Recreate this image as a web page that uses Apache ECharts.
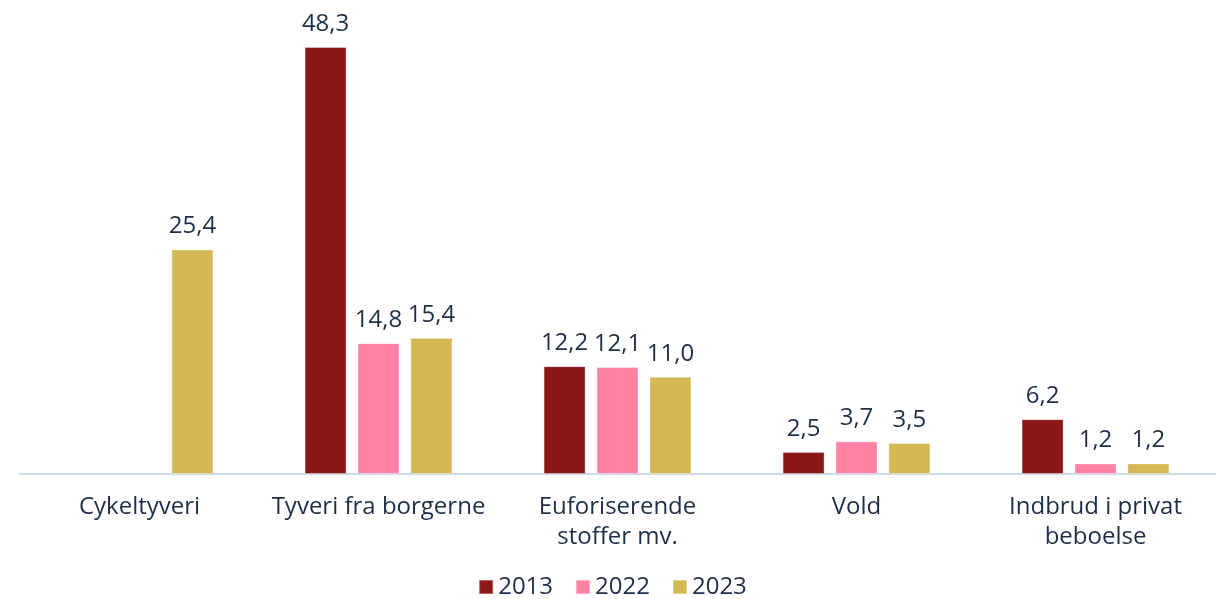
<!DOCTYPE html>
<html><head><meta charset="utf-8">
<script src="https://cdn.jsdelivr.net/npm/echarts@6/dist/echarts.min.js"></script>
<style>html,body{margin:0;padding:0;background:#fff}#c{width:1225px;height:599px}</style>
</head><body><div id="c"></div>
<script>
const categories = ['Cykeltyveri', 'Tyveri fra borgerne', 'Euforiserende\nstoffer mv.', 'Vold', 'Indbrud i privat\nbeboelse'];
const seriesNames = ['2013', '2022', '2023'];
const v2013 = [null, 48.3, 12.2, 2.5, 6.2];
const v2022 = [null, 14.8, 12.1, 3.7, 1.2];
const v2023 = [25.4, 15.4, 11.0, 3.5, 1.2];
const colors = ['#8a1816', '#ff82a5', '#d3b853'];
const textColor = '#1d2f47';
const font = 'Open Sans';
const fs = 24;
const chart = echarts.init(document.getElementById('c'));
const mk = (name, data, color) => ({
  name, type: 'bar', data, barWidth: 42, barGap: '26%',
  itemStyle: { color, borderColor: 'rgba(255,255,255,0.35)', borderWidth: 1 },
  label: { show: true, position: 'top', distance: 11, color: textColor, fontSize: fs, fontFamily: font,
    formatter: p => p.value == null ? '' : p.value.toFixed(1).replace('.', ',') }
});
chart.setOption({
  animation: false,
  color: colors,
  grid: { left: 20, right: 10, top: 32, bottom: 125, containLabel: false },
  legend: { top: 570, left: 'center', itemWidth: 14, itemHeight: 14, itemGap: 22,
    icon: 'rect', textStyle: { color: textColor, fontSize: fs, fontFamily: font, padding: [0, 0, 0, 0] } },
  xAxis: { type: 'category', data: categories,
    axisLine: { lineStyle: { color: '#c8dcee', width: 2 } }, axisTick: { show: false },
    axisLabel: { color: textColor, fontSize: fs, fontFamily: font, lineHeight: 30, margin: 18, interval: 0 } },
  yAxis: { type: 'value', min: 0, max: 50, show: false, splitLine: { show: false } },
  series: [mk(seriesNames[0], v2013, colors[0]), mk(seriesNames[1], v2022, colors[1]), mk(seriesNames[2], v2023, colors[2])]
});
</script></body></html>
